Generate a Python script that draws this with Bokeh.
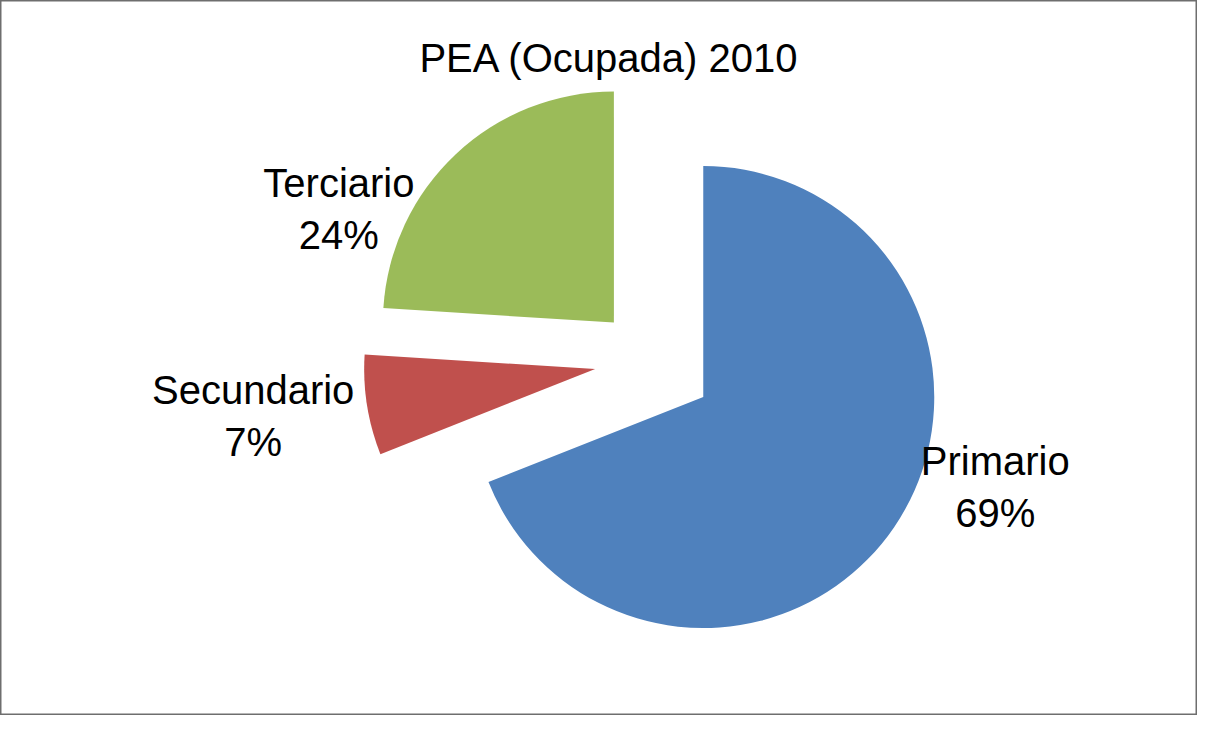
import math
from bokeh.plotting import figure
from bokeh.models import Range1d, ColumnDataSource, Label
from bokeh.core.properties import value
from bokeh.embed import file_html
from bokeh.resources import INLINE

# ---- data ----
title_text = "PEA (Ocupada) 2010"
categories = ["Primario", "Secundario", "Terciario"]
values = [69, 7, 24]
colors = ["#4F81BD", "#C0504D", "#9BBB59"]

# ---- layout (pixels) ----
W, H = 1197, 715
cx, cy = 649, 355          # pie centre before explosion
R = 231                    # radius
explode = [65, 55, 52]     # explosion distance per slice
label_dx = [292, -342, -275]
label_dy = [-90, -47, 114]
FONT = "Liberation Sans"

total = float(sum(values))
starts, ends, xs, ys, lx, ly, texts = [], [], [], [], [], [], []
cum = 0.0
for i, v in enumerate(values):
    a0 = math.pi / 2 - 2 * math.pi * cum / total
    cum += v
    a1 = math.pi / 2 - 2 * math.pi * cum / total
    mid = (a0 + a1) / 2
    x = cx + explode[i] * math.cos(mid)
    y = cy + explode[i] * math.sin(mid)
    starts.append(a0)
    ends.append(a1)
    xs.append(x)
    ys.append(y)
    lx.append(x + label_dx[i])
    ly.append(y + label_dy[i])
    texts.append(f"{categories[i]}\n{round(100 * v / total)}%")

src = ColumnDataSource(dict(x=xs, y=ys, start=starts, end=ends, color=colors,
                            lx=lx, ly=ly, text=texts, cat=categories))

p = figure(width=W, height=H, output_backend="svg", toolbar_location=None,
           x_range=Range1d(0, W), y_range=Range1d(0, H),
           min_border=0, x_axis_type=None, y_axis_type=None)
p.grid.visible = False
p.background_fill_color = "white"
p.border_fill_color = "white"
p.outline_line_color = "#6e6e6e"
p.outline_line_width = 2

p.wedge(x="x", y="y", radius=R, start_angle="start", end_angle="end",
        direction="clock", fill_color="color", line_color=None, source=src)

p.text(x="lx", y="ly", text="text", source=src, text_align="center",
       text_baseline="middle", text_font=value(FONT), text_font_size="40px",
       text_color="black", text_line_height=1.18)

p.add_layout(Label(x=609, y=H - 57, text=title_text, text_align="center",
                   text_baseline="middle", text_font=FONT, text_font_size="40px",
                   text_color="black"))

open("out.html", "w").write(file_html(p, INLINE))
